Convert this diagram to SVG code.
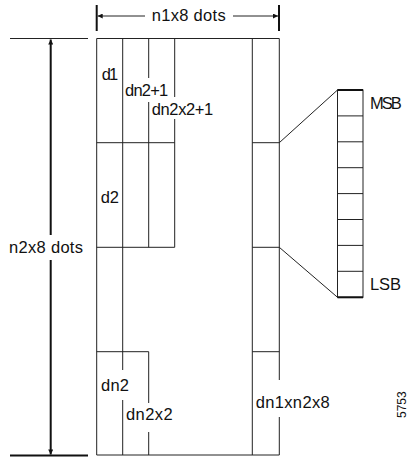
<svg xmlns="http://www.w3.org/2000/svg" width="409" height="458" viewBox="0 0 409 458">
  <style>
    .ln { stroke: #222; stroke-width: 1; fill: none; }
    .bold { stroke: #111; stroke-width: 2; fill: none; }
    .lbl { font-family: "Liberation Sans", Arial, sans-serif; font-size: 16.5px; fill: #111; }
    .small { font-family: "Liberation Sans", Arial, sans-serif; font-size: 12px; fill: #111; }
  </style>
  <defs>
    <marker id="ah" viewBox="0 0 10 10" refX="10" refY="5" markerWidth="6" markerHeight="5" markerUnits="userSpaceOnUse" orient="auto-start-reverse">
      <path d="M0,0 L10,5 L0,10 z" fill="#111"/>
    </marker>
  </defs>
  <rect width="409" height="458" fill="#fff"/>

  <!-- dimension: width -->
  <g id="dim-width">
    <line class="bold" x1="96.7" y1="5" x2="96.7" y2="31"/>
    <line class="bold" x1="279" y1="5" x2="279" y2="31"/>
    <line class="ln" x1="145" y1="16" x2="97.7" y2="16" marker-end="url(#ah)"/>
    <line class="ln" x1="233" y1="16" x2="278" y2="16" marker-end="url(#ah)"/>
    <text class="lbl" x="151.7" y="21" textLength="74">n1x8 dots</text>
  </g>

  <!-- dimension: height -->
  <g id="dim-height">
    <line class="ln" x1="10" y1="38.5" x2="88" y2="38.5"/>
    <line class="bold" x1="10" y1="455.5" x2="88" y2="455.5"/>
    <line class="bold" x1="50.7" y1="235" x2="50.7" y2="39.5" marker-end="url(#ah)"/>
    <line class="bold" x1="50.7" y1="260" x2="50.7" y2="454.5" marker-end="url(#ah)"/>
    <text class="lbl" x="9" y="253" textLength="74">n2x8 dots</text>
  </g>

  <!-- main bitmap frame -->
  <g id="frame">
    <path class="ln" d="M279.3,380 V38.5 H96.7 V455 H279.3 V417"/>
  </g>

  <!-- column d1 / d2 / dn2 -->
  <g id="col-1">
    <line class="ln" x1="96.7" y1="142.7" x2="174.7" y2="142.7"/>
    <line class="ln" x1="96.7" y1="247.3" x2="174.7" y2="247.3"/>
    <line class="ln" x1="96.7" y1="351.7" x2="148.7" y2="351.7"/>
    <text class="lbl" x="101.7" y="80" textLength="16.6">d1</text>
    <text class="lbl" x="100.7" y="203" textLength="18.3">d2</text>
    <text class="lbl" x="101" y="391" textLength="28">dn2</text>
  </g>

  <!-- column dn2+1 / dn2x2 -->
  <g id="col-2">
    <line class="ln" x1="122.7" y1="38.5" x2="122.7" y2="370"/>
    <line class="ln" x1="122.7" y1="400" x2="122.7" y2="455"/>
    <text class="lbl" x="125" y="96" textLength="43.3">dn2+1</text>
    <text class="lbl" x="126" y="420" textLength="46.7">dn2x2</text>
  </g>

  <!-- column dn2x2+1 -->
  <g id="col-3">
    <line class="ln" x1="148.7" y1="38.5" x2="148.7" y2="78"/>
    <line class="ln" x1="148.7" y1="102" x2="148.7" y2="247.3"/>
    <line class="ln" x1="148.7" y1="351.7" x2="148.7" y2="403"/>
    <line class="ln" x1="148.7" y1="432" x2="148.7" y2="455"/>
    <text class="lbl" x="151.7" y="115" textLength="61.6">dn2x2+1</text>
  </g>

  <g id="col-4">
    <line class="ln" x1="174.7" y1="38.5" x2="174.7" y2="97"/>
    <line class="ln" x1="174.7" y1="119" x2="174.7" y2="247.3"/>
  </g>

  <!-- last column -->
  <g id="col-last">
    <line class="ln" x1="252.3" y1="38.5" x2="252.3" y2="455"/>
    <line class="ln" x1="252.3" y1="142.7" x2="279.3" y2="142.7"/>
    <line class="ln" x1="252.3" y1="247.3" x2="279.3" y2="247.3"/>
    <line class="ln" x1="252.3" y1="351.7" x2="279.3" y2="351.7"/>
    <text class="lbl" x="255.7" y="408" textLength="74">dn1xn2x8</text>
  </g>

  <!-- bit stack -->
  <g id="bit-stack">
    <rect class="ln" x="337.5" y="90" width="25.5" height="207.3"/>
    <path class="ln" d="M337.5,115.9 H363 M337.5,141.8 H363 M337.5,167.7 H363 M337.5,193.6 H363 M337.5,219.5 H363 M337.5,245.4 H363 M337.5,271.3 H363"/>
    <line class="bold" x1="337.5" y1="90" x2="363" y2="90"/>
    <line class="bold" x1="337.5" y1="297.3" x2="363" y2="297.3"/>
    <text class="lbl" x="370" y="108.5" textLength="31.7">MSB</text>
    <text class="lbl" x="370" y="289.5" textLength="31">LSB</text>
  </g>

  <g id="connectors">
    <line class="ln" x1="279.3" y1="142.7" x2="337.5" y2="90"/>
    <line class="ln" x1="279.3" y1="247.3" x2="337.5" y2="297.3"/>
  </g>

  <text class="small" transform="translate(406,418) rotate(-90)">5753</text>
</svg>
